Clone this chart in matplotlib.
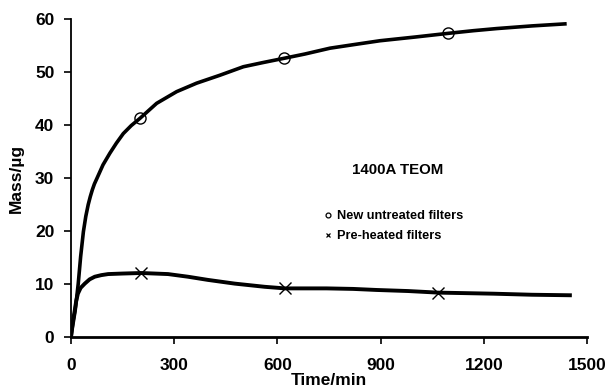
import matplotlib.pyplot as plt
from matplotlib.lines import Line2D

plt.rcParams['font.family'] = ['Liberation Sans', 'DejaVu Sans']
plt.rcParams['font.weight'] = 'bold'

# curves (time in min, mass in ug)
new_t = [0, 4, 8, 12, 16, 21, 28, 36, 43, 50, 56, 62, 68, 75, 93, 113, 132, 152, 175, 201, 249,
         307, 365, 433, 501, 559, 620, 680, 753, 825, 898, 1000, 1097, 1170, 1238, 1340, 1441]
new_m = [0, 1.8, 3.4, 5.0, 7.2, 10.1, 15.2, 19.9, 22.8, 25.0, 26.5, 27.8, 28.9, 29.9, 32.5, 34.7,
         36.6, 38.4, 39.9, 41.3, 44.1, 46.3, 47.9, 49.4, 51.0, 51.8, 52.6, 53.4, 54.5, 55.2, 55.9,
         56.6, 57.3, 57.8, 58.2, 58.7, 59.1]
heat_t = [0, 1, 5, 11, 15, 20, 28, 40, 54, 69, 88, 108, 150, 204, 282, 340, 398, 476, 563, 622,
          680, 743, 820, 889, 980, 1068, 1150, 1228, 1340, 1456]
heat_m = [0, 0.7, 2.8, 5.1, 6.8, 8.2, 9.3, 10.1, 10.9, 11.4, 11.7, 11.9, 12.0, 12.1, 11.9, 11.4,
          10.8, 10.1, 9.5, 9.2, 9.2, 9.2, 9.1, 8.9, 8.7, 8.4, 8.3, 8.2, 8.0, 7.9]

# measured points
new_pts_t = [201, 620, 1097]
new_pts_m = [41.3, 52.6, 57.3]
heat_pts_t = [204, 622, 1068]
heat_pts_m = [12.1, 9.2, 8.4]

fig = plt.figure(figsize=(6.07, 3.88), dpi=100)
ax = fig.add_axes([0.117, 0.131, 0.85, 0.82])

ax.plot(new_t, new_m, color='black', lw=2.6, solid_capstyle='butt', solid_joinstyle='round')
ax.plot(heat_t, heat_m, color='black', lw=2.8, solid_capstyle='butt', solid_joinstyle='round')
ax.plot(new_pts_t, new_pts_m, 'o', mfc='none', mec='black', ms=8, mew=1.0)
ax.plot(heat_pts_t, heat_pts_m, 'x', color='black', ms=9, mew=1.0)

ax.set_xlim(0, 1500)
ax.set_ylim(0, 60)
ax.set_xticks([0, 300, 600, 900, 1200, 1500])
ax.set_yticks([0, 10, 20, 30, 40, 50, 60])
ax.tick_params(labelsize=12.5, width=1.2, length=5)
ax.tick_params(axis='x', pad=10)
ax.tick_params(axis='y', pad=7)
for lab in ax.get_xticklabels() + ax.get_yticklabels():
    lab.set_fontweight('bold')
ax.spines['top'].set_visible(False)
ax.spines['right'].set_visible(False)
ax.spines['left'].set_linewidth(1.3)
ax.spines['bottom'].set_linewidth(2.0)

ax.set_xlabel('Time/min', fontsize=12.5, fontweight='bold', labelpad=0)
ax.set_ylabel('Mass/\u00b5g', fontsize=12.5, fontweight='bold', labelpad=8)

fig.text(352 / 607, 1 - 170 / 388, '1400A TEOM', fontsize=10.8, fontweight='bold', va='center')
handles = [
    Line2D([], [], ls='none', marker='o', mfc='white', mec='black', ms=3.5, mew=0.9),
    Line2D([], [], ls='none', marker='x', color='black', ms=3.5, mew=0.9),
]
leg = ax.legend(handles, ['New untreated filters', 'Pre-heated filters'],
                loc='upper left', bbox_to_anchor=(313 / 607, 1 - 199 / 388),
                bbox_transform=fig.transFigure, frameon=False,
                handlelength=0.6, handletextpad=0.4, labelspacing=0.6,
                prop={'size': 9.2, 'weight': 'bold'})

fig.savefig('out.png', dpi=100)
